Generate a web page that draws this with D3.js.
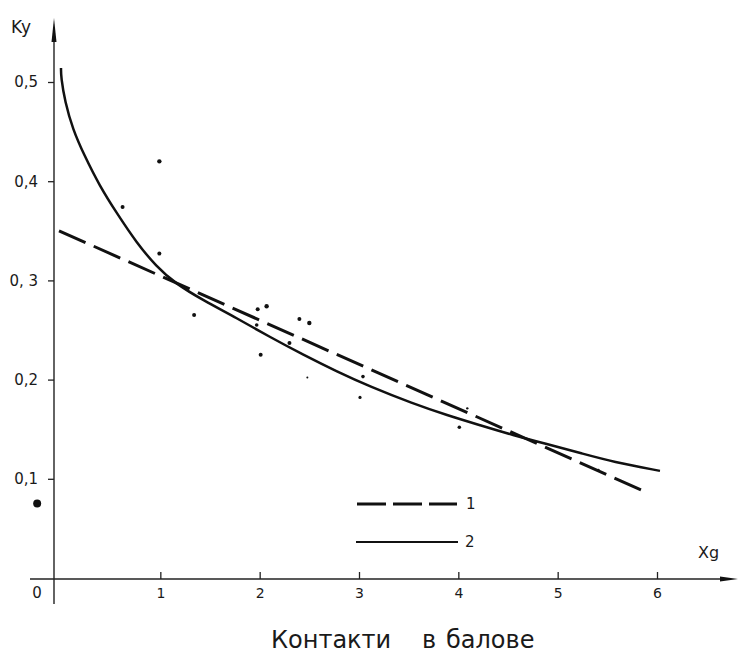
<!DOCTYPE html>
<html>
<head>
<meta charset="utf-8">
<script src="https://cdn.jsdelivr.net/npm/d3@7"></script>
<style>
  body { margin: 0; background: #fff; }
  text { font-family: "DejaVu Sans", sans-serif; fill: #1a1a1a; }
</style>
</head>
<body>
<svg id="chart" width="739" height="653"></svg>
<script>
// values
var xTicks = [1, 2, 3, 4, 5, 6];
var yTicks = [0.1, 0.2, 0.3, 0.4, 0.5];
var yTickLabels = ["0,1", "0,2", "0, 3", "0,4", "0,5"];

// curve 2 (solid)
var curveX = [0.00, 0.00, 0.04, 0.12, 0.23, 0.39, 0.56, 0.76, 0.96, 1.15, 1.43, 1.77, 2.10, 2.44, 2.78, 3.11, 3.54, 3.89, 4.22, 4.55, 4.89, 5.23, 5.56, 6.03];
var curveY = [0.514, 0.505, 0.480, 0.452, 0.427, 0.395, 0.368, 0.338, 0.314, 0.297, 0.280, 0.262, 0.243, 0.225, 0.208, 0.193, 0.176, 0.164, 0.154, 0.144, 0.135, 0.126, 0.117, 0.108];

// line 1 (dashed), end points
var lineX = [-0.02, 5.88];
var lineY = [0.350, 0.087];

// observed points
var ptX = [0.99, 0.62, 0.99, 1.34, 1.98, 2.07, 1.97, 2.01, 2.40, 2.50, 2.30, 2.48, 3.04, 3.01, 4.09, 4.01, 5.41];
var ptY = [0.420, 0.374, 0.327, 0.265, 0.271, 0.274, 0.255, 0.225, 0.261, 0.257, 0.237, 0.202, 0.203, 0.182, 0.171, 0.152, 0.109];
var ptR = [2.2, 2, 2, 2, 2, 2.2, 1.8, 2, 2, 2.2, 2, 1, 1.8, 1.6, 1.2, 1.8, 1.2];
var strayX = -0.24, strayY = 0.075;

var svg = d3.select("#chart");

var x = d3.scaleLinear().domain([0, 6]).range([61, 657]);
var y = d3.scaleLinear().domain([0, 0.5]).range([578, 82]);

var axisX = 54;   // where the vertical axis was drawn
var axisY = 579;

// axes lines
svg.append("line")
  .attr("x1", axisX).attr("x2", axisX)
  .attr("y1", 40).attr("y2", 604)
  .attr("stroke", "#222").attr("stroke-width", 1.4);
svg.append("path") // arrow up
  .attr("d", "M" + axisX + ",18 L" + (axisX - 2.5) + ",42 L" + (axisX + 2.5) + ",42 Z")
  .attr("fill", "#111");

svg.append("line")
  .attr("x1", 30).attr("x2", 728)
  .attr("y1", axisY).attr("y2", axisY)
  .attr("stroke", "#222").attr("stroke-width", 1.4);
svg.append("path") // arrow right
  .attr("d", "M738," + axisY + " L720," + (axisY - 2.5) + " L720," + (axisY + 2.5) + " Z")
  .attr("fill", "#111");

var gx = svg.append("g")
  .attr("transform", "translate(0," + axisY + ")")
  .call(d3.axisBottom(x).tickValues(xTicks).tickSize(-7).tickPadding(9).tickFormat(d3.format("d")));
gx.select(".domain").remove();
gx.selectAll("line").attr("stroke", "#222").attr("stroke-width", 1.3);
gx.selectAll("text").style("font-size", "14px");

var gy = svg.append("g")
  .attr("transform", "translate(" + axisX + ",0)")
  .call(d3.axisLeft(y).tickValues(yTicks).tickSize(6).tickPadding(10)
    .tickFormat(function(d, i) { return yTickLabels[i]; }));
gy.select(".domain").remove();
gy.selectAll("line").attr("stroke", "#222").attr("stroke-width", 1.3);
gy.selectAll("text").style("font-size", "15px");

svg.append("text").attr("x", 37).attr("y", 598)
  .attr("text-anchor", "middle").style("font-size", "15px").text("0");

svg.append("text").attr("x", 11).attr("y", 33).style("font-size", "17px").text("Ky");
svg.append("text").attr("x", 698).attr("y", 558).style("font-size", "16px").text("Xg");

// dashed line 1
var line = d3.line().x(function(d) { return x(d[0]); }).y(function(d) { return y(d[1]); });
svg.append("path")
  .datum(d3.zip(lineX, lineY))
  .attr("d", line)
  .attr("fill", "none").attr("stroke", "#111")
  .attr("stroke-width", 3).attr("stroke-dasharray", "29,9");

// solid curve 2
svg.append("path")
  .datum(d3.zip(curveX, curveY))
  .attr("d", line.curve(d3.curveBasis))
  .attr("fill", "none").attr("stroke", "#111").attr("stroke-width", 2.5);

// points
svg.append("g").selectAll("circle")
  .data(d3.zip(ptX, ptY, ptR)).enter()
  .append("circle")
  .attr("cx", function(d) { return x(d[0]); })
  .attr("cy", function(d) { return y(d[1]); })
  .attr("r", function(d) { return d[2]; })
  .attr("fill", "#111");

svg.append("circle").attr("cx", x(strayX)).attr("cy", y(strayY)).attr("r", 4).attr("fill", "#111");

// legend
var lg = svg.append("g");
lg.append("line").attr("x1", 357).attr("x2", 457).attr("y1", 504).attr("y2", 504)
  .attr("stroke", "#111").attr("stroke-width", 3).attr("stroke-dasharray", "29,7");
lg.append("text").attr("x", 466).attr("y", 509).style("font-size", "15px").text("1");
lg.append("line").attr("x1", 356).attr("x2", 458).attr("y1", 542).attr("y2", 542)
  .attr("stroke", "#111").attr("stroke-width", 2.2);
lg.append("text").attr("x", 465).attr("y", 547).style("font-size", "15px").text("2");

// caption
var cap = svg.append("text").attr("y", 648).style("font-size", "24px");
cap.append("tspan").attr("x", 271).text("Контакти");
cap.append("tspan").attr("x", 422).text("в");
cap.append("tspan").attr("x", 446).text("балове");
</script>
</body>
</html>
